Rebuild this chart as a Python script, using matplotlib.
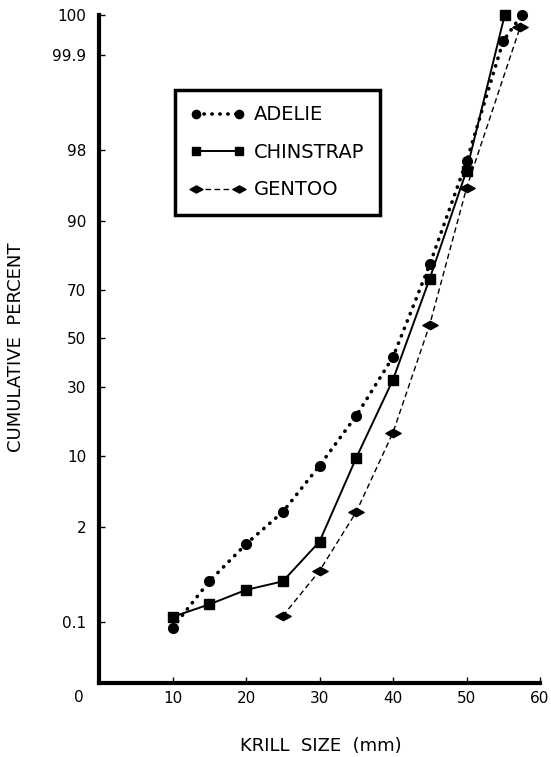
import math
import numpy as np
import matplotlib
matplotlib.use("Agg")
import matplotlib.pyplot as plt
from matplotlib.path import Path
from matplotlib.ticker import FixedLocator, FixedFormatter, NullLocator

# ---------------- data ----------------
adelie_x = [10, 15, 20, 25, 30, 35, 40, 45, 50, 55, 57.5]
adelie_y = [0.082, 0.41, 1.26, 2.95, 8.3, 20.0, 42.0, 79.0, 97.3, 99.94, 100]

chinstrap_x = [10, 15, 20, 25, 30, 35, 40, 45, 50, 55.2]
chinstrap_y = [0.122, 0.19, 0.31, 0.41, 1.35, 9.7, 32.7, 74.3, 96.6, 100]

gentoo_x = [25, 30, 35, 40, 45, 50, 57.3]
gentoo_y = [0.126, 0.57, 2.95, 15.3, 56.0, 94.9, 99.965]

y_ticks = [0.1, 2, 10, 30, 50, 70, 90, 98, 99.9, 100]
y_tick_labels = ["0.1", "2", "10", "30", "50", "70", "90", "98", "99.9", "100"]
x_ticks = [10, 20, 30, 40, 50, 60]
x_tick_labels = ["10", "20", "30", "40", "50", "60"]

# ---------------- probability scale ----------------
_a = [-3.969683028665376e+01, 2.209460984245205e+02, -2.759285104469687e+02,
      1.383577518672690e+02, -3.066479806614716e+01, 2.506628277459239e+00]
_b = [-5.447609879822406e+01, 1.615858368580409e+02, -1.556989798598866e+02,
      6.680131188771972e+01, -1.328068155288572e+01]
_c = [-7.784894002430293e-03, -3.223964580411365e-01, -2.400758277161838e+00,
      -2.549732539343734e+00, 4.374664141464968e+00, 2.938163982698783e+00]
_d = [7.784695709041462e-03, 3.224671290700398e-01, 2.445134137142996e+00,
      3.754408661907416e+00]

P_LO, P_HI = 1e-7, 0.999785


def _ppf(p):
    p = np.clip(np.asarray(p, dtype=float), P_LO, P_HI)
    plow = 0.02425
    q_low = np.sqrt(-2 * np.log(np.clip(p, P_LO, 1 - 1e-12)))
    low = (((((_c[0]*q_low+_c[1])*q_low+_c[2])*q_low+_c[3])*q_low+_c[4])*q_low+_c[5]) / \
          ((((_d[0]*q_low+_d[1])*q_low+_d[2])*q_low+_d[3])*q_low+1)
    q_high = np.sqrt(-2 * np.log(np.clip(1 - p, 1e-12, 1)))
    high = -(((((_c[0]*q_high+_c[1])*q_high+_c[2])*q_high+_c[3])*q_high+_c[4])*q_high+_c[5]) / \
           ((((_d[0]*q_high+_d[1])*q_high+_d[2])*q_high+_d[3])*q_high+1)
    q = p - 0.5
    r = q * q
    mid = (((((_a[0]*r+_a[1])*r+_a[2])*r+_a[3])*r+_a[4])*r+_a[5])*q / \
          (((((_b[0]*r+_b[1])*r+_b[2])*r+_b[3])*r+_b[4])*r+1)
    return np.where(p < plow, low, np.where(p > 1 - plow, high, mid))


_erf = np.vectorize(math.erf)


def forward(pct):
    return _ppf(np.asarray(pct, dtype=float) / 100.0)


def inverse(z):
    z = np.asarray(z, dtype=float)
    return 100.0 * 0.5 * (1 + _erf(z / math.sqrt(2)))


# ---------------- figure ----------------
W, H = 551, 757
fig = plt.figure(figsize=(W / 100, H / 100), dpi=100)
ax = fig.add_axes([99 / W, (H - 683) / H, (540 - 99) / W, (683 - 15) / H])

ax.set_yscale("function", functions=(forward, inverse))
ax.set_xlim(0, 60)
ax.set_ylim(inverse(-3.75), 100)

diamond = Path([(-1, 0), (0, 0.55), (1, 0), (0, -0.55), (-1, 0)],
               [Path.MOVETO, Path.LINETO, Path.LINETO, Path.LINETO, Path.CLOSEPOLY])

ax.plot(adelie_x, adelie_y, color="black", linestyle=(0, (0.1, 2.1)),
        dash_capstyle="round", linewidth=2.6, marker="o", markersize=7,
        label="ADELIE", clip_on=False, zorder=3)
ax.plot(chinstrap_x, chinstrap_y, color="black", linestyle="-", linewidth=1.4,
        marker="s", markersize=6.5, label="CHINSTRAP", clip_on=False, zorder=3)
ax.plot(gentoo_x, gentoo_y, color="black", linestyle=(0, (4, 2.5)), linewidth=1.0,
        marker=diamond, markersize=11, label="GENTOO", clip_on=False, zorder=3)

for s in ["top", "right"]:
    ax.spines[s].set_visible(False)
for s in ["left", "bottom"]:
    ax.spines[s].set_linewidth(3)
    ax.spines[s].set_capstyle("projecting")

ax.yaxis.set_major_locator(FixedLocator(y_ticks))
ax.yaxis.set_major_formatter(FixedFormatter(y_tick_labels))
ax.yaxis.set_minor_locator(NullLocator())
ax.xaxis.set_major_locator(FixedLocator(x_ticks))
ax.xaxis.set_major_formatter(FixedFormatter(x_tick_labels))
ax.xaxis.set_minor_locator(NullLocator())

ax.tick_params(axis="y", direction="in", length=4, width=1, pad=9, labelsize=11)
ax.tick_params(axis="x", direction="in", length=4, width=1, pad=6, labelsize=11)

ax.text(-0.045, -0.021, "0", transform=ax.transAxes, ha="center", va="center",
        fontsize=11)

ax.set_ylabel("CUMULATIVE  PERCENT", fontsize=13, ha="center", va="center")
ax.set_xlabel("KRILL  SIZE  (mm)", fontsize=13, ha="center", va="center")
ax.yaxis.set_label_coords((16 - 99) / 441, (683 - 347) / 668)
ax.xaxis.set_label_coords((321 - 99) / 441, (683 - 746) / 668)

leg = ax.legend(loc="upper left", bbox_to_anchor=(0.172, 0.888), borderaxespad=0,
                numpoints=2, handlelength=2.8, handletextpad=0.45, fontsize=14,
                labelspacing=0.95, borderpad=0.8, fancybox=False, framealpha=1,
                edgecolor="black", markerscale=0.85)
leg.get_frame().set_linewidth(2.5)

fig.savefig("out.png", dpi=100)
